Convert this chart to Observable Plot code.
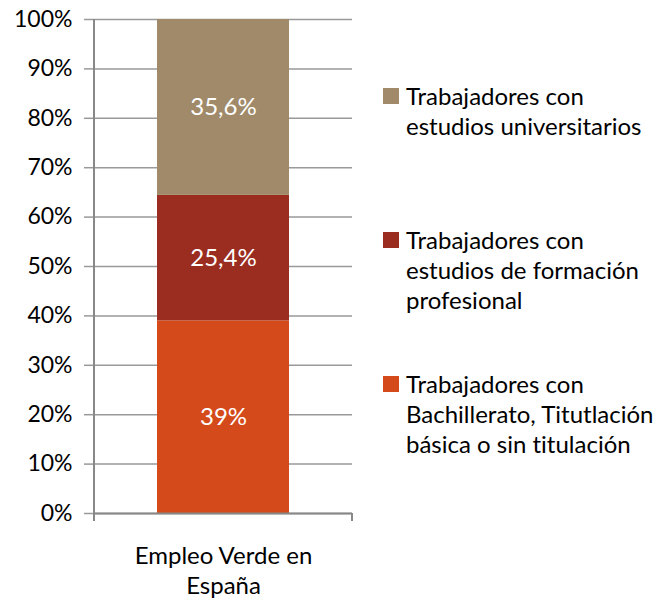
<!DOCTYPE html>
<html><head><meta charset="utf-8">
<script src="https://cdn.jsdelivr.net/npm/d3@7"></script>
<script src="https://cdn.jsdelivr.net/npm/@observablehq/plot@0.6"></script>
<style>
body{margin:0;background:#fff;}
#wrap{position:relative;width:659px;height:602px;font-family:Lato,sans-serif;font-variant-ligatures:none;}
#wrap svg text{font-variant-ligatures:none;}
.item{position:absolute;left:383px;display:flex;align-items:flex-start;font-size:24px;line-height:30px;color:#000;white-space:nowrap;font-variant-ligatures:none;}
.sw{width:16px;height:16px;margin-top:7px;margin-right:7px;flex:none;}
</style></head>
<body><div id="wrap"></div>
<script>
const categories = ["Empleo Verde en España"];
const series = [
  "Trabajadores con Bachillerato, Titutlación básica o sin titulación",
  "Trabajadores con estudios de formación profesional",
  "Trabajadores con estudios universitarios"
];
const values = [39, 25.4, 35.6];
const valueLabels = ["39%", "25,4%", "35,6%"];
const colors = ["#D44A1A", "#9A2D20", "#A08A6A"];
const yTicks = [0, 10, 20, 30, 40, 50, 60, 70, 80, 90, 100];
const legendOrder = [2, 1, 0];
const legendLines = [
  ["Trabajadores con", "Bachillerato, Titutlación", "básica o sin titulación"],
  ["Trabajadores con", "estudios de formación", "profesional"],
  ["Trabajadores con", "estudios universitarios"]
];

const data = series.map((s, i) => ({cat: categories[0], series: s, value: values[i], label: valueLabels[i]}));

const edgeTicks = (index, scales, values, dim) => {
  const g = d3.create("svg:g").attr("stroke", "#888").attr("stroke-width", 2);
  const x0 = dim.marginLeft, x1 = dim.width - dim.marginRight, yb = dim.height - dim.marginBottom;
  g.append("line").attr("x1", x0).attr("x2", x0).attr("y1", dim.marginTop).attr("y2", yb + 8);
  g.append("line").attr("x1", x1).attr("x2", x1).attr("y1", yb).attr("y2", yb + 8);
  return g.node();
};

const chart = Plot.plot({
  width: 659, height: 602,
  marginLeft: 94, marginRight: 307, marginTop: 19, marginBottom: 89,
  style: {fontFamily: "Lato, sans-serif", fontSize: "24px", color: "#000", background: "#fff", fontVariantLigatures: "none"},
  x: {domain: categories, padding: 0, label: null},
  y: {domain: [0, 100], label: null},
  color: {domain: series, range: colors},
  marks: [
    Plot.gridY(yTicks, {stroke: "#999", strokeOpacity: 1, strokeWidth: 1.5}),
    Plot.axisY(yTicks, {tickSize: 10, tickPadding: 12, tickFormat: d => d + "%", stroke: "#999", strokeWidth: 1.5, label: null, fontSize: 23}),
    Plot.barY(data, Plot.stackY({x: "cat", y: "value", fill: "series", insetLeft: 63, insetRight: 63})),
    Plot.text(data, Plot.stackY({x: "cat", y: "value", text: "label", fill: "white", fontSize: 24})),
    Plot.axisX({tickSize: 0, tickPadding: 29, tickFormat: d => d.replace(" en ", " en\n"), lineHeight: 1.25, fontSize: 24, label: null}),
    Plot.ruleY([0], {stroke: "#888", strokeWidth: 2}),
    edgeTicks
  ]
});

const wrap = document.getElementById("wrap");
wrap.appendChild(chart);
const tops = [88, 232, 376];
legendOrder.forEach((si, k) => {
  const div = document.createElement("div");
  div.className = "item";
  div.style.top = (tops[k] - 7) + "px";
  const sw = document.createElement("div");
  sw.className = "sw";
  sw.style.background = colors[si];
  const txt = document.createElement("div");
  txt.innerHTML = legendLines[si].join("<br>");
  div.appendChild(sw); div.appendChild(txt);
  wrap.appendChild(div);
});
</script></body></html>
